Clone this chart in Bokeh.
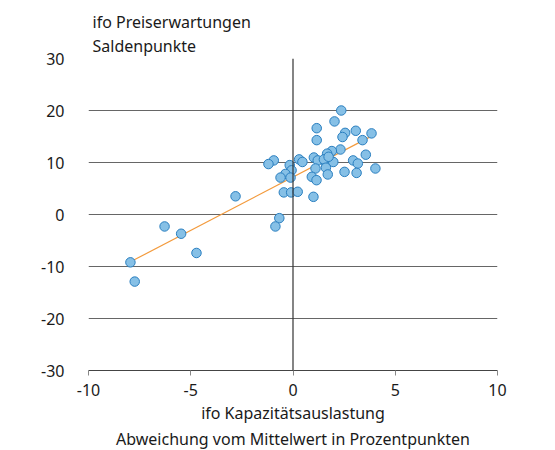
from bokeh.plotting import figure
from bokeh.models import Span, FixedTicker, Title, CustomJSTickFormatter
from bokeh.embed import file_html
from bokeh.resources import INLINE

# Data
kap = [2.36, 2.03, 1.16, 1.16, 2.55, 2.42, 3.07, 3.84, 3.40, 2.32, 1.90, 1.67, 3.56,
       1.02, 1.21, 0.30, 0.46, -0.94, -1.20, -0.16, -0.07, -0.37, -0.61, -0.12, 1.61,
       1.97, 1.51, 1.74, 1.10, 1.61, 2.94, 3.17, 4.03, 2.52, 3.11, 1.70, 0.92, 1.15,
       -0.45, -0.09, 0.23, 1.00, -2.81, -0.67, -0.86, -7.95, -7.74, -6.28, -5.47, -4.72]
preis = [20.0, 17.9, 16.6, 14.3, 15.7, 14.9, 16.1, 15.6, 14.3, 12.5, 12.2, 11.7, 11.5,
         10.96, 10.4, 10.6, 10.1, 10.4, 9.7, 9.5, 8.5, 7.8, 7.1, 7.1, 9.9,
         10.1, 10.6, 11.1, 8.85, 9.0, 10.4, 9.8, 8.85, 8.2, 8.0, 7.7, 7.25, 6.6,
         4.25, 4.25, 4.37, 3.4, 3.5, -0.7, -2.3, -9.2, -12.9, -2.3, -3.7, -7.4]
trend_x = [-7.95, 4.05]
trend_y = [-9.1, 15.5]
x_ticks = [-10, -5, 0, 5, 10]
y_ticks = [-30, -20, -10, 0, 10, 20, 30]
y_title = ["ifo Preiserwartungen", "Saldenpunkte"]
x_title = ["ifo Kapazitätsauslastung", "Abweichung vom Mittelwert in Prozentpunkten"]

FONT = "Noto Sans"
TXT = "#1a1a1a"
FS = "16px"

p = figure(width=550, height=450, x_range=(-10, 10), y_range=(-30, 30),
           output_backend="svg", toolbar_location=None,
           min_border_left=88, min_border_right=53, min_border_top=58, min_border_bottom=79)
p.outline_line_color = None

# title (top-left, two lines)
p.title.text = "\n".join(y_title)
p.title.align = "left"
p.title.offset = 4
p.title.text_font = FONT
p.title.text_font_size = FS
p.title.text_font_style = "normal"
p.title.text_color = TXT
p.title.text_line_height = 1.1
p.title.standoff = 2

# x titles
p.add_layout(Title(text=x_title[0], align="center", text_font=FONT,
                   text_font_size=FS, text_font_style="normal", text_color=TXT,
                   standoff=3), "below")
p.add_layout(Title(text=x_title[1], align="center", text_font=FONT,
                   text_font_size=FS, text_font_style="normal", text_color=TXT,
                   standoff=1), "below")

# grid
p.xgrid.visible = False
p.ygrid.ticker = FixedTicker(ticks=y_ticks)
p.ygrid.grid_line_color = "#666666"
p.ygrid.grid_line_width = 1.2

fmt = CustomJSTickFormatter(code="return String(tick);")

# axes
p.yaxis.ticker = FixedTicker(ticks=y_ticks)
p.yaxis.formatter = fmt
p.yaxis.axis_line_color = None
p.yaxis.major_tick_line_color = None
p.yaxis.minor_tick_line_color = None
p.yaxis.major_label_text_font = FONT
p.yaxis.major_label_text_font_size = FS
p.yaxis.major_label_text_color = TXT
p.yaxis.major_label_standoff = 18

p.xaxis.ticker = FixedTicker(ticks=x_ticks)
p.xaxis.formatter = fmt
p.xaxis.axis_line_color = "#444444"
p.xaxis.axis_line_width = 1.2
p.xaxis.major_tick_line_color = "#888888"
p.xaxis.major_tick_in = 0
p.xaxis.major_tick_out = 5
p.xaxis.minor_tick_line_color = None
p.xaxis.major_label_text_font = FONT
p.xaxis.major_label_text_font_size = FS
p.xaxis.major_label_text_color = TXT
p.xaxis.major_label_standoff = 8

p.add_layout(Span(location=0, dimension="height", line_color="#333333", line_width=1.2))

p.line(trend_x, trend_y, line_color="#f39a3c", line_width=1.2)
p.scatter(kap, preis, size=9.5, fill_color="#86c0e6", line_color="#2a7fc0", line_width=1)

open("out.html", "w").write(file_html(p, INLINE))
